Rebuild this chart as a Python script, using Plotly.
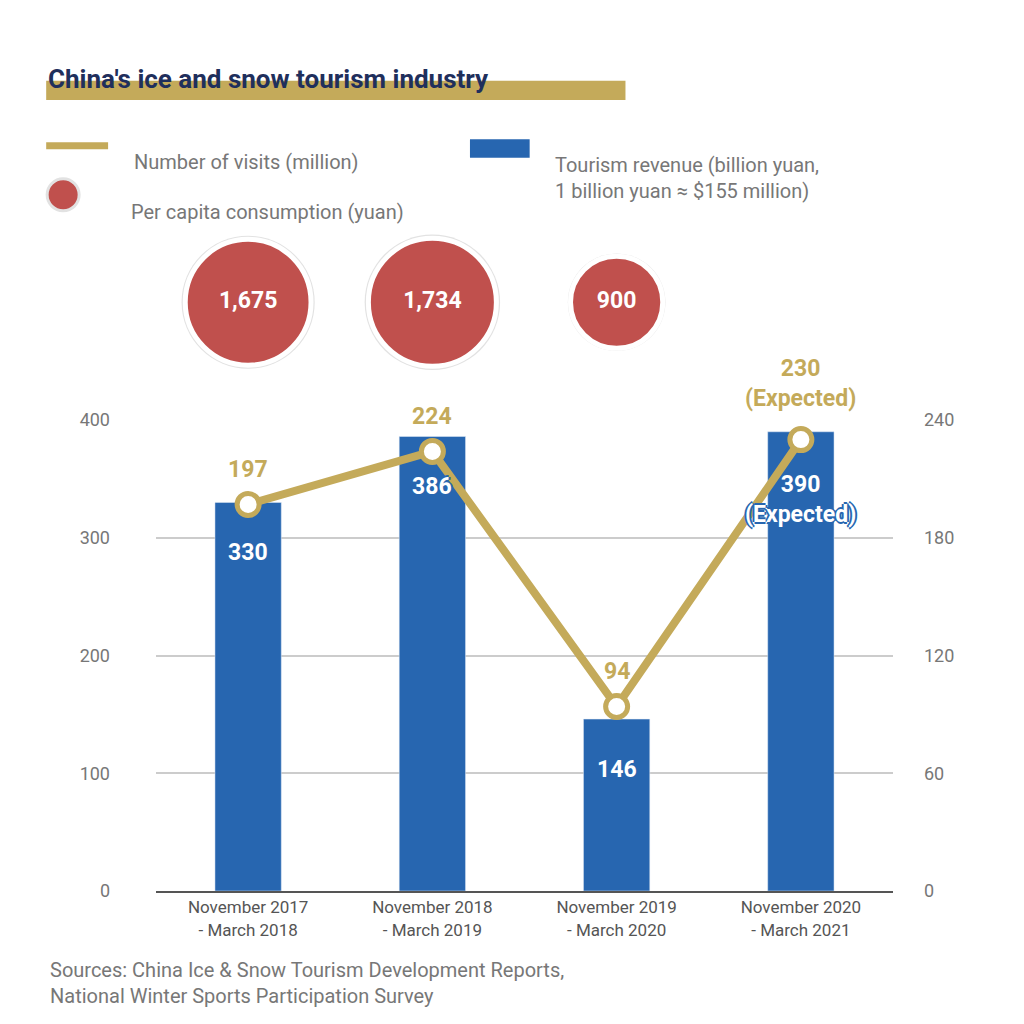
import plotly.graph_objects as go

categories = ["November 2017<br>- March 2018", "November 2018<br>- March 2019",
              "November 2019<br>- March 2020", "November 2020<br>- March 2021"]
revenue = [330, 386, 146, 390]
revenue_labels = ["330", "386", "146", "390<br>(Expected)"]
visits = [197, 224, 94, 230]
visit_labels = ["197", "224", "94", "230<br>(Expected)"]
per_capita = [1675, 1734, 900]
per_capita_labels = ["1,675", "1,734", "900"]

BLUE = "#2766b0"
GOLD = "#c4aa5a"
RED = "#c0504d"
GRAY = "#777777"
FONT = "Roboto"

fig = go.Figure()
fig.add_bar(x=categories, y=revenue, marker_color=BLUE, width=0.36, hoverinfo="skip")
fig.add_scatter(x=categories, y=visits, yaxis="y2", mode="lines+markers",
                line=dict(color=GOLD, width=8),
                marker=dict(size=22, color="white", line=dict(color=GOLD, width=5)),
                cliponaxis=False)
sizeref = 2 * max(per_capita) / 128 ** 2
fig.add_scatter(x=categories[:3], y=[0.6] * 3, yaxis="y3", mode="markers",
                marker=dict(size=[v * 1.12 for v in per_capita], sizemode="area", sizeref=sizeref,
                            color="#e2e2e2", opacity=1, line=dict(width=0)), cliponaxis=False, hoverinfo="skip")
fig.add_scatter(x=categories[:3], y=[0.6] * 3, yaxis="y3", mode="markers+text",
                text=per_capita_labels, textfont=dict(color="white", size=23, family=FONT, weight="bold"),
                marker=dict(size=per_capita, sizemode="area", sizeref=sizeref, opacity=1,
                            color=RED, line=dict(color="white", width=5)), cliponaxis=False)

shadow_b = "2px 0 0 %s, -2px 0 0 %s, 0 2px 0 %s, 0 -2px 0 %s" % ((BLUE,) * 4)
shadow_w = "2px 0 0 white, -2px 0 0 white, 0 2px 0 white, 0 -2px 0 white"
for i, (c, v) in enumerate(zip(categories, revenue)):
    fig.add_annotation(x=c, y=v, yref="y", text=revenue_labels[i], showarrow=False,
                       yshift=-50 if i < 3 else -68,
                       font=dict(color="white", size=23, family=FONT, weight="bold", shadow=shadow_b))
for i, (c, v) in enumerate(zip(categories, visits)):
    fig.add_annotation(x=c, y=v, yref="y2", text=visit_labels[i], showarrow=False,
                       yshift=35 if i < 3 else 56,
                       font=dict(color=GOLD, size=23, family=FONT, weight="bold", shadow=shadow_w))

# title and legend
fig.add_shape(type="rect", xref="paper", yref="paper", x0=-0.149, x1=0.637, y0=1.193, y1=1.222,
              fillcolor=GOLD, line_width=0, layer="below")
fig.add_annotation(xref="paper", yref="paper", x=-0.149, y=1.224, xanchor="left", yanchor="middle",
                   text="<b>China's ice and snow tourism industry</b>", showarrow=False,
                   font=dict(size=26, color="#1f2f5c", family=FONT))
fig.add_shape(type="line", xref="paper", yref="paper", x0=-0.149, x1=-0.065, y0=1.124, y1=1.124,
              line=dict(color=GOLD, width=7))
fig.add_annotation(xref="paper", yref="paper", x=-0.033, y=1.121, xanchor="left", text="Number of visits (million)",
                   showarrow=False, font=dict(size=20, color=GRAY, family=FONT))
fig.add_shape(type="rect", xref="paper", yref="paper", x0=0.426, x1=0.507, y0=1.106, y1=1.134,
              fillcolor=BLUE, line_width=0)
fig.add_annotation(xref="paper", yref="paper", x=0.539, y=1.116, xanchor="left", align="left",
                   text="Tourism revenue (billion yuan,<br>1 billion yuan ≈ $155 million)",
                   showarrow=False, font=dict(size=20, color=GRAY, family=FONT))
fig.add_shape(type="circle", xref="paper", yref="paper", xsizemode="pixel", ysizemode="pixel",
              xanchor=-0.126, yanchor=1.05, x0=-16, x1=16, y0=-16, y1=16,
              fillcolor=RED, line=dict(color="#e2e2e2", width=3))
fig.add_annotation(xref="paper", yref="paper", x=-0.036, y=1.045, xanchor="left", text="Per capita consumption (yuan)",
                   showarrow=False, font=dict(size=20, color=GRAY, family=FONT))
fig.add_annotation(xref="paper", yref="paper", x=-0.146, y=-0.098, xanchor="left", yanchor="top", align="left",
                   text="Sources: China Ice & Snow Tourism Development Reports,<br>National Winter Sports Participation Survey",
                   showarrow=False, font=dict(size=20, color=GRAY, family=FONT))

fig.update_layout(
    width=1024, height=1024, showlegend=False, plot_bgcolor="white", paper_bgcolor="white",
    margin=dict(l=148, r=139, t=220, b=141, autoexpand=False), font=dict(family=FONT, color=GRAY),
    xaxis=dict(showline=True, linecolor="#555555", linewidth=2, tickfont=dict(size=17, color="#555555"),
               ticks="", range=[-0.5, 3.5], automargin=False),
    yaxis=dict(domain=[0, 0.7104], range=[0, 400], tickvals=[0, 100, 200, 300, 400],
               showgrid=True, gridcolor="#cccccc", gridwidth=1.5, zeroline=False, automargin=False,
               tickfont=dict(size=18, color=GRAY), ticklabelstandoff=45),
    yaxis2=dict(domain=[0, 0.7104], range=[0, 240], tickvals=[0, 60, 120, 180, 240], overlaying="y",
                side="right", showgrid=False, zeroline=False, tickfont=dict(size=18, color=GRAY),
                anchor="x", ticklabelstandoff=30, automargin=False),
    yaxis3=dict(domain=[0.72, 1], range=[0, 1], visible=False),
)
fig.write_html("out.html")
